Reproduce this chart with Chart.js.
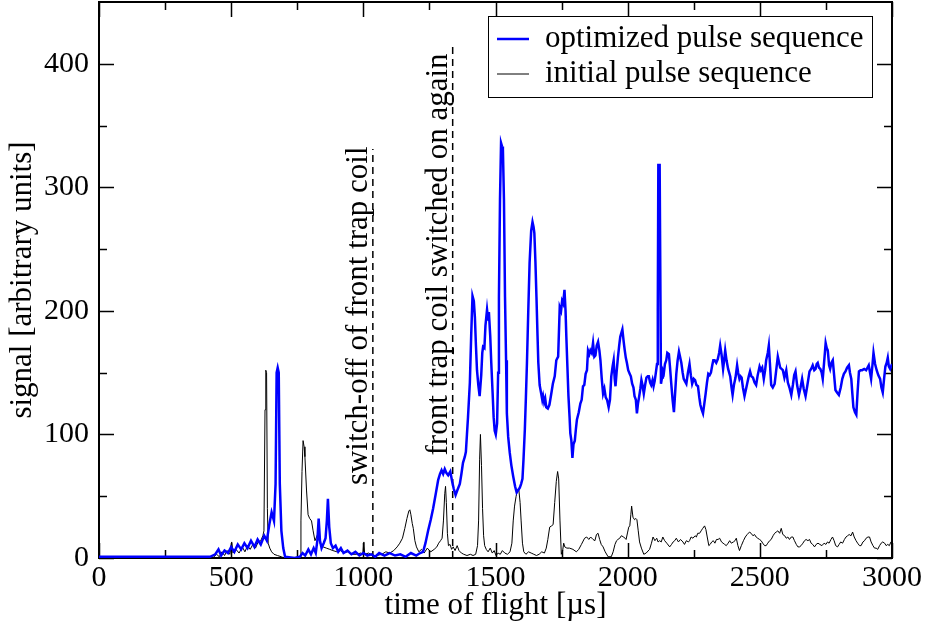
<!DOCTYPE html>
<html>
<head>
<meta charset="utf-8">
<script src="https://cdn.jsdelivr.net/npm/chart.js@4.4.1/dist/chart.umd.min.js"></script>
<style>
  body { margin: 0; background: #fff; }
  #tofChart { display: block; }
</style>
</head>
<body>
<canvas id="tofChart" width="928" height="628"></canvas>
<script>
// optimized pulse sequence (blue): time [us] / signal
const optT = [0, 420, 440, 452, 462, 475, 488, 500, 512, 525, 538, 550, 562, 575, 588, 600, 612, 625, 635, 645, 653, 662, 668, 672, 676, 680, 684, 690, 697, 704, 740, 760, 770, 780, 792, 802, 812, 820, 826, 831, 836, 842, 850, 857, 862, 866, 871, 877, 885, 895, 905, 915, 925, 940, 955, 970, 985, 1000, 1015, 1030, 1045, 1060, 1080, 1100, 1120, 1140, 1160, 1180, 1200, 1215, 1226, 1235, 1245, 1255, 1264, 1274, 1283, 1290, 1296, 1302, 1308, 1314, 1321, 1329, 1336, 1342, 1349, 1356, 1365, 1371, 1377, 1384, 1388, 1392, 1396, 1403, 1408, 1413, 1418, 1422, 1426, 1430, 1435, 1440, 1446, 1450, 1453, 1458, 1462, 1468, 1472, 1475, 1480, 1484, 1489, 1493, 1497, 1501, 1506, 1510, 1513, 1517, 1521, 1525, 1528, 1532, 1536, 1540, 1543, 1548, 1554, 1560, 1567, 1574, 1580, 1586, 1592, 1597, 1602, 1606, 1611, 1615, 1619, 1624, 1629, 1635, 1640, 1644, 1647, 1651, 1655, 1659, 1662, 1667, 1673, 1677, 1680, 1684, 1688, 1692, 1698, 1704, 1711, 1717, 1724, 1730, 1737, 1743, 1748, 1752, 1756, 1761, 1765, 1768, 1772, 1776, 1780, 1783, 1787, 1791, 1795, 1800, 1804, 1808, 1815, 1821, 1826, 1831, 1836, 1841, 1846, 1850, 1855, 1859, 1864, 1869, 1874, 1878, 1883, 1888, 1893, 1897, 1902, 1907, 1912, 1917, 1922, 1928, 1933, 1938, 1943, 1947, 1951, 1954, 1958, 1963, 1968, 1972, 1976, 1980, 1985, 1989, 1993, 1997, 2002, 2008, 2012, 2017, 2022, 2026, 2031, 2035, 2039, 2043, 2048, 2052, 2056, 2061, 2066, 2071, 2076, 2080, 2085, 2089, 2094, 2098, 2102, 2106, 2111, 2114, 2116, 2121, 2126, 2130, 2133, 2137, 2141, 2146, 2150, 2156, 2160, 2165, 2170, 2175, 2180, 2184, 2189, 2194, 2198, 2203, 2208, 2212, 2217, 2222, 2228, 2234, 2239, 2244, 2250, 2255, 2260, 2266, 2271, 2275, 2280, 2285, 2290, 2295, 2300, 2305, 2310, 2315, 2320, 2324, 2329, 2335, 2341, 2346, 2350, 2355, 2361, 2365, 2369, 2374, 2380, 2384, 2388, 2393, 2397, 2402, 2408, 2414, 2418, 2423, 2427, 2431, 2436, 2442, 2447, 2452, 2458, 2463, 2468, 2474, 2480, 2486, 2492, 2499, 2504, 2509, 2515, 2520, 2524, 2530, 2534, 2538, 2543, 2549, 2556, 2562, 2568, 2573, 2577, 2582, 2587, 2593, 2600, 2606, 2612, 2619, 2625, 2630, 2635, 2641, 2648, 2654, 2660, 2666, 2673, 2680, 2688, 2694, 2700, 2706, 2711, 2715, 2719, 2724, 2729, 2734, 2738, 2743, 2749, 2753, 2757, 2762, 2766, 2771, 2776, 2781, 2786, 2792, 2799, 2806, 2812, 2818, 2824, 2830, 2837, 2841, 2846, 2850, 2854, 2860, 2865, 2870, 2875, 2881, 2887, 2895, 2902, 2907, 2912, 2917, 2921, 2926, 2930, 2936, 2942, 2948, 2955, 2960, 2965, 2970, 2975, 2980, 2984, 2988, 2993, 3000];
const optV = [1, 1, 3, 7, 2, 6, 4, 9, 5, 11, 7, 12, 8, 14, 9, 15, 11, 18, 14, 28, 37, 30, 60, 150, 154, 150, 60, 22, 8, 1, 0, 1, 4, 2, 7, 3, 8, 4, 14, 32, 14, 8, 12, 16, 30, 48, 25, 12, 8, 10, 5, 8, 4, 6, 3, 5, 2, 4, 2, 3, 1, 4, 2, 4, 2, 3, 1, 4, 2, 4, 5, 12, 22, 31, 40, 52, 63, 68, 71, 68, 72, 69, 67, 70, 62, 56, 51, 55, 60, 68, 77, 82, 86, 100, 114, 142, 180, 212, 208, 195, 172, 152, 140, 131, 148, 166, 171, 170, 188, 201, 193, 199, 180, 158, 134, 114, 103, 100, 109, 150, 211, 290, 336, 333, 331, 290, 211, 160, 117, 98, 85, 75, 66, 58, 53, 55, 57, 60, 64, 80, 104, 130, 158, 200, 239, 265, 272, 268, 263, 240, 211, 180, 158, 140, 133, 128, 131, 126, 129, 122, 121, 124, 133, 141, 147, 160, 163, 203, 200, 208, 206, 217, 200, 179, 155, 131, 115, 101, 95, 81, 92, 95, 104, 112, 118, 125, 128, 139, 140, 149, 152, 168, 165, 168, 166, 174, 163, 164, 172, 175, 168, 160, 145, 133, 137, 130, 128, 122, 128, 147, 155, 160, 145, 139, 150, 162, 172, 179, 182, 185, 175, 168, 162, 158, 152, 149, 147, 141, 138, 131, 128, 117, 125, 130, 137, 144, 140, 133, 140, 146, 147, 147, 142, 140, 144, 139, 143, 149, 157, 200, 318, 318, 141, 146, 152, 150, 157, 160, 166, 165, 155, 141, 128, 118, 135, 149, 160, 167, 163, 158, 150, 145, 143, 141, 150, 157, 148, 141, 145, 144, 140, 139, 130, 124, 120, 117, 125, 133, 142, 149, 148, 150, 156, 160, 160, 158, 161, 166, 172, 165, 153, 160, 168, 160, 153, 150, 147, 138, 132, 140, 146, 156, 150, 145, 147, 146, 138, 131, 136, 141, 147, 151, 147, 146, 142, 140, 148, 155, 152, 154, 145, 152, 160, 166, 172, 158, 140, 138, 141, 152, 163, 158, 154, 153, 152, 146, 152, 142, 138, 132, 140, 148, 151, 140, 132, 138, 145, 137, 131, 140, 151, 153, 156, 152, 153, 157, 158, 154, 153, 150, 145, 158, 174, 170, 168, 156, 153, 158, 160, 148, 136, 134, 132, 138, 145, 149, 151, 154, 156, 150, 145, 133, 122, 118, 116, 135, 151, 152, 152, 153, 152, 154, 156, 150, 145, 156, 166, 157, 152, 148, 145, 138, 134, 145, 155, 158, 162, 155, 153, 157];

// initial pulse sequence (black): time [us] / signal
const initT = [0, 400, 430, 445, 455, 465, 475, 485, 495, 502, 507, 518, 530, 542, 552, 562, 572, 582, 592, 602, 612, 620, 624, 628, 631, 634, 637, 640, 646, 653, 662, 675, 690, 700, 755, 761, 764, 768, 772, 776, 779, 785, 791, 797, 804, 810, 817, 823, 829, 836, 842, 848, 860, 873, 885, 900, 915, 923, 940, 955, 974, 990, 998, 1002, 1005, 1020, 1035, 1050, 1070, 1085, 1100, 1115, 1128, 1138, 1148, 1157, 1165, 1172, 1176, 1180, 1185, 1189, 1195, 1201, 1210, 1220, 1230, 1242, 1255, 1268, 1278, 1285, 1292, 1298, 1303, 1308, 1311, 1314, 1318, 1322, 1328, 1334, 1340, 1347, 1355, 1362, 1371, 1380, 1392, 1405, 1415, 1425, 1432, 1436, 1440, 1443, 1447, 1451, 1455, 1459, 1465, 1472, 1480, 1488, 1495, 1502, 1510, 1518, 1526, 1535, 1545, 1555, 1562, 1567, 1572, 1578, 1583, 1588, 1593, 1597, 1602, 1607, 1615, 1625, 1635, 1645, 1655, 1665, 1675, 1685, 1692, 1698, 1705, 1712, 1718, 1724, 1730, 1735, 1739, 1744, 1749, 1754, 1758, 1762, 1770, 1780, 1793, 1806, 1815, 1825, 1837, 1845, 1853, 1860, 1869, 1876, 1882, 1888, 1894, 1900, 1907, 1915, 1926, 1938, 1945, 1952, 1958, 1963, 1970, 1976, 1985, 1994, 2000, 2004, 2008, 2012, 2015, 2020, 2026, 2031, 2035, 2040, 2045, 2052, 2061, 2070, 2083, 2090, 2096, 2103, 2110, 2115, 2121, 2127, 2133, 2140, 2148, 2159, 2166, 2172, 2178, 2184, 2192, 2200, 2209, 2215, 2222, 2230, 2234, 2240, 2247, 2255, 2260, 2265, 2272, 2278, 2284, 2291, 2296, 2301, 2307, 2312, 2318, 2324, 2330, 2336, 2342, 2348, 2355, 2361, 2367, 2373, 2380, 2386, 2392, 2400, 2406, 2411, 2417, 2423, 2430, 2438, 2445, 2452, 2461, 2467, 2474, 2480, 2486, 2492, 2499, 2505, 2511, 2518, 2524, 2530, 2537, 2543, 2550, 2556, 2562, 2568, 2575, 2581, 2587, 2594, 2600, 2606, 2612, 2619, 2625, 2631, 2638, 2644, 2650, 2656, 2663, 2669, 2675, 2682, 2688, 2694, 2700, 2707, 2713, 2720, 2727, 2735, 2743, 2750, 2756, 2762, 2769, 2775, 2781, 2787, 2794, 2800, 2806, 2813, 2820, 2826, 2832, 2838, 2845, 2851, 2857, 2864, 2870, 2877, 2883, 2890, 2896, 2902, 2909, 2915, 2921, 2928, 2934, 2940, 2946, 2953, 2959, 2965, 2972, 2978, 2984, 2990, 2996, 3000];
const initV = [0, 0, 0, 3, 1, 5, 2, 6, 3, 13, 4, 7, 4, 9, 5, 10, 7, 11, 8, 13, 14, 18, 22, 120, 152, 150, 40, 12, 8, 5, 3, 2, 1, 0, 0, 0, 30, 70, 95, 90, 82, 55, 35, 32, 30, 22, 14, 17, 20, 12, 10, 9, 8, 7, 6, 5, 6, 4, 5, 3, 3, 4, 3, 13, 3, 4, 2, 2, 3, 5, 4, 6, 9, 12, 16, 24, 32, 38, 39, 35, 28, 24, 14, 9, 5, 7, 4, 8, 5, 7, 9, 12, 14, 16, 30, 52, 58, 45, 20, 10, 11, 7, 9, 6, 10, 6, 4, 3, 2, 3, 2, 3, 10, 30, 80, 100, 75, 40, 18, 10, 7, 5, 8, 4, 6, 2, 4, 3, 6, 4, 3, 5, 12, 30, 42, 50, 55, 56, 45, 30, 12, 5, 3, 5, 4, 3, 2, 3, 5, 4, 8, 15, 25, 26, 27, 45, 62, 70, 64, 30, 3, 6, 12, 9, 8, 8, 7, 5, 7, 11, 16, 17, 15, 17, 15, 14, 19, 20, 15, 11, 9, 5, 1, 1, 5, 11, 14, 15, 16, 18, 17, 15, 21, 25, 26, 35, 42, 33, 31, 32, 31, 22, 13, 8, 3, 4, 7, 12, 17, 14, 16, 13, 14, 13, 17, 14, 12, 9, 11, 13, 14, 16, 13, 15, 13, 11, 14, 13, 14, 17, 16, 18, 17, 20, 20, 22, 24, 26, 23, 17, 10, 11, 13, 14, 12, 15, 15, 16, 13, 12, 11, 10, 12, 14, 12, 13, 14, 16, 10, 6, 10, 14, 17, 19, 21, 20, 18, 19, 17, 16, 15, 14, 12, 10, 10, 12, 14, 15, 18, 20, 21, 22, 20, 24, 19, 18, 16, 17, 15, 17, 17, 14, 11, 9, 9, 10, 12, 14, 15, 14, 15, 12, 11, 9, 11, 12, 11, 10, 12, 11, 13, 12, 15, 17, 14, 10, 9, 11, 13, 12, 15, 17, 18, 19, 18, 21, 17, 14, 12, 10, 10, 13, 14, 16, 17, 17, 13, 10, 8, 8, 7, 10, 12, 13, 12, 10, 11, 10, 13, 12];

// switching events: dashed marker time and its upper end
const markerT = [1036, 1338];
const markerTop = [331, 415];
const markerText = ["switch-off of front trap coil", "front trap coil switched on again"];

const seriesNames = ["optimized pulse sequence", "initial pulse sequence"];
const xTicks = [0, 500, 1000, 1500, 2000, 2500, 3000];
const yTicks = [0, 100, 200, 300, 400];

const FONT = "Liberation Serif, Times New Roman, serif";

const toPoints = (ts, vs) => ts.map((t, i) => ({ x: t, y: vs[i] }));

const datasets = [
  {
    label: seriesNames[0],
    data: toPoints(optT, optV),
    borderColor: "#0000ff",
    borderWidth: 2.5,
  },
  {
    label: seriesNames[1],
    data: toPoints(initT, initV),
    borderColor: "#000000",
    borderWidth: 1,
  },
];
markerT.forEach((t, i) => {
  datasets.push({
    label: "marker" + i,
    data: [{ x: t, y: 0 }, { x: t, y: markerTop[i] }],
    borderColor: "#000000",
    borderWidth: 1.5,
    borderDash: [7, 5],
  });
});

// frame + inward ticks on all four sides
const framePlugin = {
  id: "frame",
  beforeDatasetsDraw(chart) {
    const { ctx, chartArea: a, scales } = chart;
    const xs = scales.x, ys = scales.y;
    ctx.save();
    ctx.strokeStyle = "#000";
    ctx.lineWidth = 1.5;
    ctx.beginPath();
    for (let v = 0; v <= 3000; v += 250) {
      const len = v % 500 === 0 ? 15 : 8;
      const px = Math.round(xs.getPixelForValue(v)) + 0.5;
      ctx.moveTo(px, a.bottom); ctx.lineTo(px, a.bottom - len);
      ctx.moveTo(px, a.top); ctx.lineTo(px, a.top + len);
    }
    for (let v = 0; v < 450; v += 50) {
      const len = v % 100 === 0 ? 15 : 8;
      const py = Math.round(ys.getPixelForValue(v)) + 0.5;
      ctx.moveTo(a.left, py); ctx.lineTo(a.left + len, py);
      ctx.moveTo(a.right, py); ctx.lineTo(a.right - len, py);
    }
    ctx.stroke();
    ctx.lineWidth = 2;
    ctx.strokeRect(a.left, a.top, a.right - a.left, a.bottom - a.top);
    ctx.restore();
  },
  afterDraw(chart) {
    const { ctx, scales } = chart;
    const xs = scales.x, ys = scales.y;
    ctx.save();
    ctx.fillStyle = "#000";
    ctx.font = "31px " + FONT;
    ctx.textBaseline = "alphabetic";
    ctx.textAlign = "left";
    // rotated annotations beside dashed markers
    const startVal = [59, 83];
    markerT.forEach((t, i) => {
      const px = xs.getPixelForValue(t) - 6;
      const py = ys.getPixelForValue(startVal[i]);
      ctx.save();
      ctx.translate(px, py);
      ctx.rotate(-Math.PI / 2);
      ctx.fillText(markerText[i], 0, 0);
      ctx.restore();
    });
    // legend box
    const bx = 488, by = 16, bw = 384, bh = 81;
    ctx.fillStyle = "#fff";
    ctx.fillRect(bx, by, bw, bh);
    ctx.strokeStyle = "#000";
    ctx.lineWidth = 1;
    ctx.strokeRect(bx + 0.5, by + 0.5, bw, bh);
    [0, 1].forEach(i => {
      const ds = chart.data.datasets[i];
      const ly = by + 23 + i * 35;
      ctx.strokeStyle = ds.borderColor;
      ctx.lineWidth = ds.borderWidth;
      ctx.beginPath();
      ctx.moveTo(bx + 9, ly);
      ctx.lineTo(bx + 41, ly);
      ctx.stroke();
      ctx.fillStyle = "#000";
      ctx.textBaseline = "middle";
      ctx.fillText(ds.label, bx + 57, ly);
    });
    ctx.restore();
  },
};

const tickFont = { family: FONT, size: 30 };
const titleFont = { family: FONT, size: 31 };

new Chart(document.getElementById("tofChart").getContext("2d"), {
  type: "line",
  data: { datasets: datasets },
  options: {
    responsive: false,
    animation: false,
    events: [],
    layout: { padding: { top: 2, right: 36, left: 0, bottom: 0 } },
    elements: {
      point: { radius: 0 },
      line: { tension: 0, fill: false },
    },
    plugins: {
      legend: { display: false },
      tooltip: { enabled: false },
    },
    scales: {
      x: {
        type: "linear",
        min: 0,
        max: 3000,
        afterBuildTicks: s => { s.ticks = xTicks.map(v => ({ value: v })); },
        ticks: { font: tickFont, color: "#000", padding: 2, maxRotation: 0, autoSkip: false, callback: v => String(v) },
        grid: { display: false, drawTicks: false },
        border: { display: false },
        title: {
          display: true,
          text: "time of flight [µs]",
          font: titleFont,
          color: "#000",
          padding: { top: 0, bottom: 4 },
        },
        afterFit: s => { s.height = 70; s.paddingLeft = 0; s.paddingRight = 0; },
      },
      y: {
        type: "linear",
        min: 0,
        max: 450,
        afterBuildTicks: s => { s.ticks = yTicks.map(v => ({ value: v })); },
        ticks: { font: tickFont, color: "#000", padding: 10, autoSkip: false, callback: v => String(v) },
        grid: { display: false, drawTicks: false },
        border: { display: false },
        title: {
          display: true,
          text: "signal [arbitrary units]",
          font: titleFont,
          color: "#000",
          padding: { top: 4, bottom: 4 },
        },
        afterFit: s => { s.width = 99; s.paddingTop = 0; s.paddingBottom = 0; },
      },
    },
  },
  plugins: [framePlugin],
});
</script>
</body>
</html>
